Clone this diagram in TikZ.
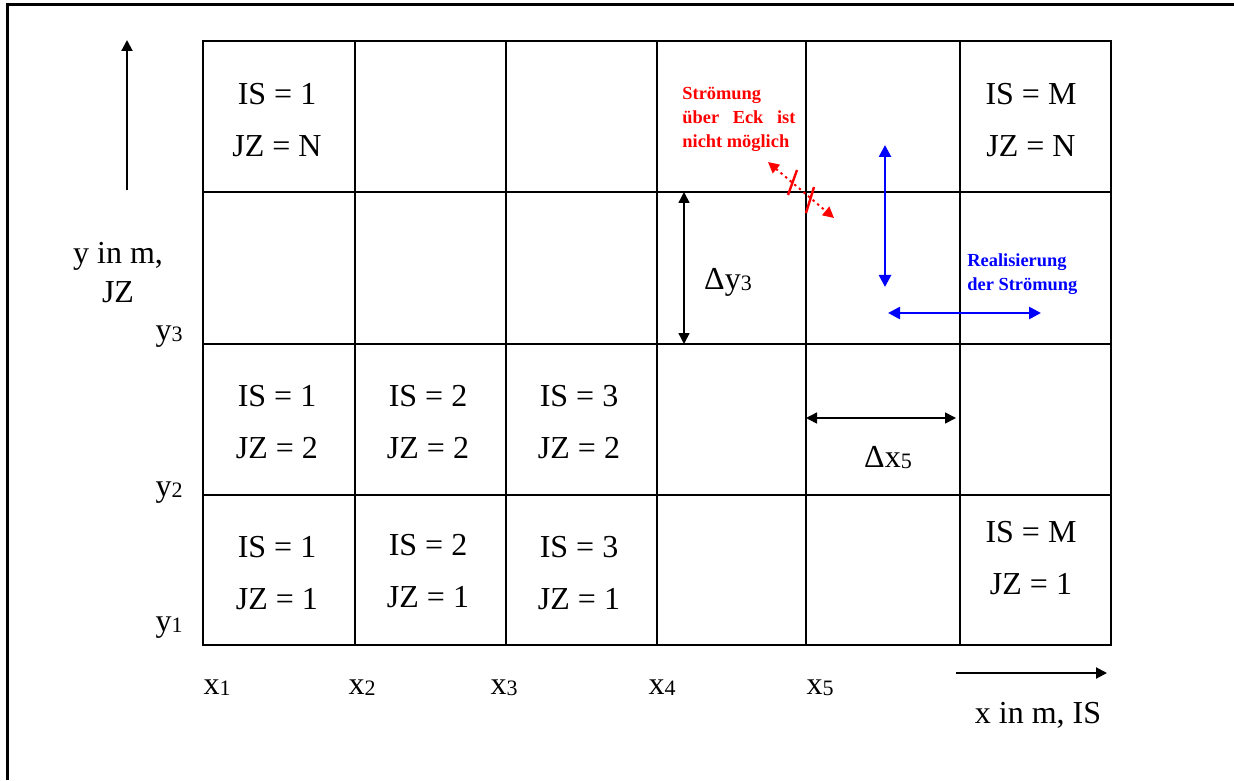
\documentclass[tikz,border=0pt]{standalone}
\usepackage{fontspec}
\setmainfont{Liberation Serif}
\usepackage{xcolor}
\usepackage{tikz}
\usetikzlibrary{arrows.meta, positioning, calc}

\newcommand{\lowidx}[1]{\raisebox{-0.5pt}{\fontsize{11}{11}\selectfont #1}}

\begin{document}
\begin{tikzpicture}[x=0.5pt, y=-0.5pt,
  >={Triangle[length=5.5pt, width=5.5pt]},
  cell/.style={align=center, inner sep=0pt, font=\fontsize{16}{26}\selectfont},
  lbl/.style={inner sep=0pt, font=\fontsize{16}{19}\selectfont},
  note/.style={align=left, inner sep=0pt, anchor=north west,
    font=\fontsize{9.2}{12}\selectfont\bfseries, text=#1},
  gridline/.style={line width=1pt, line cap=rect},
  dimline/.style={line width=0.8pt, <->},
  flow/.style={draw=blue, line width=1.3pt,
    {Triangle[length=6pt, width=6pt]}-{Triangle[length=6pt, width=6pt]}}
]
  \useasboundingbox (0,0) rectangle (1234,780);
  \draw[line width=1.5pt] (7,780) -- (7,5) -- (1234,5);

  % Gitter
  \foreach \gx in {203,355,506,657,806,960,1111}
    \draw[gridline] (\gx,41) -- (\gx,645);
  \foreach \gy in {41,192,344,495,645}
    \draw[gridline] (203,\gy) -- (1111,\gy);

  % Zellen
  \node[cell] (c11) at (277,120.4) {IS = 1\\JZ = N};
  \node[cell] (c61) at (1031,120.4) {IS = M\\JZ = N};
  \node[cell] (c13) at (277,422.4) {IS = 1\\JZ = 2};
  \node[cell] (c23) at (428,422.4) {IS = 2\\JZ = 2};
  \node[cell] (c33) at (579,422.4) {IS = 3\\JZ = 2};
  \node[cell] (c14) at (277,573) {IS = 1\\JZ = 1};
  \node[cell] (c24) at (428,571) {IS = 2\\JZ = 1};
  \node[cell] (c34) at (579,573) {IS = 3\\JZ = 1};
  \node[cell] (c64) at (1031,558) {IS = M\\JZ = 1};

  % Achsen
  \coordinate (ybot) at (127,190);
  \coordinate (ytop) at (127,40);
  \draw[line width=1pt, ->] (ybot) -- (ytop);
  \coordinate (xleft) at (956,673);
  \coordinate (xright) at (1107,673);
  \draw[line width=1pt, ->] (xleft) -- (xright);
  \node[lbl, align=center, font=\fontsize{16}{19.5}\selectfont] (ylabel) at (118,273) {y in m,\\JZ};
  \node[lbl, anchor=base] (xlabel) at (1038,723) {x in m, IS};

  \node[lbl, anchor=base east] (y3) at (183,340) {y\lowidx{3}};
  \node[lbl, anchor=base east] (y2) at (183,496) {y\lowidx{2}};
  \node[lbl, anchor=base east] (y1) at (183,631) {y\lowidx{1}};
  \foreach \i/\px in {1/217,2/362,3/504,4/662,5/820}
    \node[lbl, anchor=base] (x\i) at (\px,694) {x\lowidx{\i}};

  % Abstaende
  \coordinate (dyt) at (684,192);
  \coordinate (dyb) at (684,344);
  \draw[dimline] (dyt) -- (dyb);
  \node[lbl, anchor=base] (dy) at (728,290) {Δy\lowidx{3}};
  \coordinate (dxl) at (806,418);
  \coordinate (dxr) at (956,418);
  \draw[dimline] (dxl) -- (dxr);
  \node[lbl, anchor=base] (dx) at (888,467) {Δx\lowidx{5}};

  % Stroemung ueber Eck
  \node[note=red] (eck) at (682,86.5)
    {Strömung\\\hbox to 56.5pt{über\hfill Eck\hfill ist}\\nicht möglich};
  \coordinate (eckA) at (768,162);
  \coordinate (eckB) at (834,218);
  \draw[red, line width=1pt, dash pattern=on 1.2pt off 1.8pt,
    <->, >={Triangle[length=5.5pt, width=5.5pt]}] (eckA) -- (eckB);
  \draw[red, line width=1.2pt] (788,195) -- (797,170);
  \draw[red, line width=1.2pt] (806,213) -- (814,187);

  % Realisierung
  \node[note=blue] (real) at (967,253) {Realisierung\\der Strömung};
  \coordinate (vtop) at (885,145);
  \coordinate (vbot) at (885,287);
  \draw[flow] (vtop) -- (vbot);
  \coordinate (hl) at (888,313);
  \coordinate (hr) at (1041,313);
  \draw[flow] (hl) -- (hr);
\end{tikzpicture}
\end{document}
